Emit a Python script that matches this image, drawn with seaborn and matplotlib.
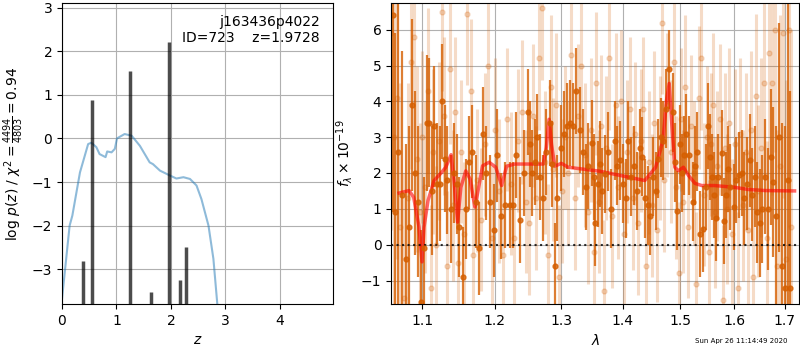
import numpy as np
import matplotlib
matplotlib.use("Agg")
import matplotlib.pyplot as plt
import matplotlib.ticker as mticker
import seaborn as sns

# left panel: log p(z)
pz_z = [0.0, 0.14, 0.19, 0.33, 0.48, 0.54, 0.63, 0.69, 0.80, 0.83, 0.91, 0.97, 1.01,
        1.15, 1.28, 1.43, 1.61, 1.67, 1.80, 1.98, 2.10, 2.23, 2.35, 2.47, 2.56, 2.69,
        2.78, 2.85, 2.90]
pz_logp = [-3.68, -2.0, -1.77, -0.78, -0.13, -0.10, -0.20, -0.36, -0.43, -0.30, -0.32,
           -0.24, 0.0, 0.10, 0.06, -0.17, -0.55, -0.59, -0.74, -0.85, -0.92, -0.89,
           -0.93, -1.08, -1.39, -2.0, -2.76, -3.77, -4.5]
spike_z = [0.39, 0.55, 1.24, 1.64, 1.97, 2.17, 2.28]
spike_h = [-2.82, 0.88, 1.55, -3.52, 2.22, -3.25, -2.5]

# right panel: binned spectrum (dark)
dark_wave = [1.062, 1.065, 1.069, 1.074, 1.079, 1.083, 1.087, 1.091, 1.095, 1.098,
             1.102, 1.106, 1.109, 1.113, 1.116, 1.120, 1.124, 1.127, 1.131, 1.134,
             1.139, 1.143, 1.147, 1.150, 1.155, 1.159, 1.164, 1.168, 1.173, 1.178,
             1.183, 1.188, 1.193, 1.199, 1.204, 1.210, 1.215, 1.222, 1.227, 1.232,
             1.238, 1.243, 1.249, 1.252, 1.255, 1.260, 1.263, 1.268, 1.272, 1.277,
             1.282, 1.286, 1.290, 1.294, 1.299, 1.304, 1.309, 1.314, 1.319, 1.324,
             1.330, 1.335, 1.340, 1.343, 1.349, 1.352, 1.354, 1.358, 1.362, 1.366,
             1.370, 1.375, 1.380, 1.386, 1.390, 1.395, 1.400, 1.405, 1.409, 1.414,
             1.419, 1.424, 1.429, 1.433, 1.437, 1.442, 1.447, 1.451, 1.456, 1.461,
             1.465, 1.469, 1.474, 1.480, 1.486, 1.490, 1.494, 1.499, 1.503, 1.507,
             1.511, 1.516, 1.522, 1.527, 1.531, 1.536, 1.541, 1.546, 1.550, 1.554,
             1.558, 1.562, 1.566, 1.570, 1.576, 1.580, 1.584, 1.588, 1.593, 1.599,
             1.604, 1.610, 1.615, 1.620, 1.625, 1.630, 1.635, 1.640, 1.645, 1.650,
             1.655, 1.661, 1.667, 1.672, 1.677, 1.683, 1.688, 1.694, 1.700, 1.706,
             1.712]
dark_flux = [6.4, 0.9, 2.6, 1.4, -0.4, 0.5, 3.9, 2.0, 1.2, -1.6,
             -0.1, 3.4, 3.4, 1.5, 3.3, 1.7, 1.7, 4.0, 2.4, 1.8,
             1.0, 2.0, 1.7, 0.5, -0.9, 1.0, 2.3, 2.6, 1.2, -0.1,
             3.1, 2.0, 1.2, 0.4, 2.5, 0.8, 1.1, 1.1, 1.1, 2.5,
             0.7, 2.0, 3.7, 2.8, 2.0, 2.3, 3.0, 1.9, 1.3, 2.6,
             3.4, 2.25, -0.6, 1.3, 2.7, 3.1, 3.3, 3.4, 3.3, 4.3,
             3.2, 2.6, 1.6, 2.2, 2.85, 1.9, 0.6, 1.7, 2.25, 1.5,
             1.97, 2.6, 1.0, 2.9, 2.2, 2.35, 1.7, 1.3, 2.9, 1.9,
             2.2, 1.5, 2.7, 2.45, 1.3, 1.1, 0.8, 1.9, 1.5, 2.4,
             3.0, 2.9, 3.8, 4.9, 3.7, 2.3, 0.95, 2.8, 2.0, 2.5,
             3.1, 2.5, 1.2, 2.2, 2.6, 0.3, 0.45, 1.6, 3.3, 2.45,
             1.9, 1.4, 0.75, 1.9, 2.55, 0.65, 1.4, 2.1, 1.6, 1.05,
             1.8, 1.95, 2.0, 1.3, 1.7, 2.35, 1.4, 1.9, 0.9, 0.6,
             1.0, 1.9, 1.0, 2.45, 1.75, 0.8, 3.0, -0.6, -1.2, 1.8,
             -1.2]
dark_err = [5.5, 5.0, 4.5, 4.0, 3.2, 2.8, 2.4, 2.3, 2.1, 2.0,
            2.0, 1.9, 1.8, 1.8, 1.7, 1.7, 1.6, 1.6, 1.5, 1.5,
            1.5, 1.4, 1.4, 1.4, 1.4, 1.4, 1.3, 1.3, 1.3, 1.3,
            1.3, 1.3, 1.3, 1.3, 1.3, 1.2, 1.2, 1.2, 1.2, 1.2,
            1.2, 1.2, 1.2, 1.2, 1.2, 1.2, 1.2, 1.2, 1.2, 1.2,
            1.2, 1.2, 1.2, 1.2, 1.2, 1.2, 1.2, 1.2, 1.2, 1.2,
            1.2, 1.2, 1.2, 1.2, 1.2, 1.2, 1.2, 1.2, 1.2, 1.2,
            1.1, 1.1, 1.1, 1.1, 1.1, 1.1, 1.1, 1.1, 1.1, 1.1,
            1.1, 1.1, 1.1, 1.1, 1.1, 1.1, 1.1, 1.1, 1.1, 1.1,
            1.1, 1.1, 1.1, 1.1, 1.1, 1.1, 1.1, 1.1, 1.1, 1.1,
            1.1, 1.1, 1.1, 1.1, 1.1, 1.2, 1.2, 1.2, 1.2, 1.2,
            1.2, 1.2, 1.2, 1.2, 1.2, 1.2, 1.2, 1.2, 1.2, 1.2,
            1.2, 1.2, 1.2, 1.3, 1.3, 1.3, 1.3, 1.4, 1.4, 1.5,
            1.5, 1.6, 1.7, 1.9, 2.1, 2.5, 3.2, 4.0, 4.5, 5.0,
            5.5]

# unbinned spectrum (light)
light_wave = [1.060, 1.064, 1.067, 1.071, 1.076, 1.081, 1.085, 1.089, 1.093, 1.097,
              1.100, 1.104, 1.108, 1.112, 1.115, 1.118, 1.122, 1.126, 1.129, 1.133,
              1.137, 1.141, 1.145, 1.149, 1.153, 1.157, 1.161, 1.166, 1.170, 1.175,
              1.181, 1.186, 1.190, 1.196, 1.201, 1.207, 1.212, 1.218, 1.224, 1.229,
              1.235, 1.240, 1.246, 1.251, 1.257, 1.262, 1.266, 1.270, 1.275, 1.280,
              1.284, 1.288, 1.292, 1.297, 1.301, 1.306, 1.311, 1.316, 1.321, 1.327,
              1.332, 1.337, 1.342, 1.347, 1.352, 1.356, 1.360, 1.364, 1.368, 1.372,
              1.377, 1.382, 1.388, 1.392, 1.397, 1.402, 1.407, 1.412, 1.417, 1.421,
              1.426, 1.431, 1.435, 1.440, 1.444, 1.449, 1.453, 1.458, 1.463, 1.467,
              1.471, 1.476, 1.483, 1.488, 1.492, 1.497, 1.501, 1.505, 1.509, 1.514,
              1.519, 1.524, 1.529, 1.533, 1.538, 1.543, 1.548, 1.552, 1.556, 1.560,
              1.564, 1.568, 1.573, 1.578, 1.582, 1.586, 1.591, 1.596, 1.601, 1.607,
              1.612, 1.617, 1.622, 1.627, 1.632, 1.637, 1.642, 1.647, 1.652, 1.658,
              1.664, 1.669, 1.674, 1.680, 1.685, 1.691, 1.697, 1.703, 1.709, 1.714]
light_flux = [5.9, 3.0, 4.1, 0.5, -1.5, 1.3, 5.1, 5.8, 2.4, 0.9,
              3.0, 1.6, 4.3, -1.2, 2.6, 0.0, 2.9, 6.5, 3.6, -0.6,
              4.9, 1.1, 3.7, -0.5, 2.6, 0.3, 6.45, 4.3, -0.3, 1.8,
              0.7, 2.8, 5.0, 0.2, 3.2, 1.5, -0.3, 3.5, 1.7, 0.2,
              2.9, 3.7, 1.2, 0.6, 3.6, 1.3, 5.2, 6.6, 2.3, -0.3,
              4.4, 2.1, 3.9, -0.9, 1.5, 3.0, 2.0, 5.3, 1.3, 3.6,
              5.0, 2.5, 0.9, 3.2, -0.2, 4.5, 1.2, 3.3, -1.3, 2.7,
              5.2, 0.8, 3.9, 1.6, 4.0, 0.3, 2.6, 3.8, 1.3, 3.1,
              0.6, 2.9, 3.8, -0.6, 2.3, 1.1, 3.4, 0.4, 2.7, 6.2,
              1.8, 3.9, 2.6, 5.1, 1.6, -0.8, 3.5, 1.2, 4.4, 0.5,
              3.3, 2.0, -1.1, 4.1, 5.2, 1.4, 3.0, -0.2, 2.8, 3.9,
              0.9, 2.2, 3.5, -1.55, 2.7, 1.0, 3.4, 0.3, 2.8, -1.2,
              3.1, 1.1, 2.6, 0.4, 3.2, -0.9, 4.15, 1.5, 2.7, 4.5,
              0.2, 5.35, 4.5, 6.0, -0.6, 2.2, 5.9, -0.4, 6.0, 0.5]
light_err = [5.5, 5.0, 4.5, 4.0, 3.5, 3.2, 3.0, 2.8, 2.6, 2.5,
             2.4, 2.4, 2.3, 2.3, 2.3, 2.2, 2.2, 2.2, 2.2, 2.1,
             2.1, 2.1, 2.1, 2.1, 2.0, 2.0, 2.0, 2.0, 2.0, 2.0,
             2.0, 2.0, 2.0, 2.0, 2.0, 2.0, 2.0, 2.0, 2.0, 2.0,
             2.0, 2.0, 2.0, 2.0, 2.0, 2.0, 2.0, 2.0, 2.0, 2.0,
             2.0, 2.0, 2.0, 2.0, 2.0, 2.0, 2.0, 2.0, 2.0, 2.0,
             2.0, 2.0, 2.0, 2.0, 2.0, 2.0, 2.0, 2.0, 2.0, 2.0,
             2.0, 2.0, 2.0, 2.0, 2.0, 2.0, 2.0, 2.0, 2.0, 2.0,
             2.0, 2.0, 2.0, 2.0, 2.0, 2.0, 2.0, 2.0, 2.0, 2.0,
             2.0, 2.0, 2.0, 2.0, 2.0, 2.0, 2.0, 2.0, 2.0, 2.0,
             2.0, 2.0, 2.0, 2.0, 2.0, 2.0, 2.0, 2.0, 2.0, 2.0,
             2.1, 2.1, 2.1, 2.1, 2.1, 2.1, 2.1, 2.1, 2.1, 2.1,
             2.1, 2.1, 2.2, 2.2, 2.2, 2.3, 2.3, 2.4, 2.5, 2.6,
             2.7, 2.9, 3.1, 3.4, 3.8, 4.2, 4.6, 5.0, 5.5, 5.5]

# best-fit model
model_wave = [1.0701, 1.083, 1.089, 1.096, 1.100, 1.1026, 1.1079, 1.116, 1.125, 1.1318,
              1.139, 1.143, 1.1479, 1.1525, 1.1593, 1.1653, 1.172, 1.1757, 1.1829, 1.1923,
              1.2018, 1.2103, 1.2175, 1.2297, 1.2723, 1.277, 1.2812, 1.285, 1.290, 1.3003,
              1.311, 1.3616, 1.4373, 1.456, 1.463, 1.469, 1.475, 1.480, 1.485, 1.490,
              1.4965, 1.5055, 1.5147, 1.5265, 1.539, 1.5624, 1.6011, 1.6274, 1.6611, 1.7204]
model_flux = [1.44, 1.51, 1.32, 0.49, -0.48, 0.49, 1.23, 1.79, 1.99, 2.16,
              2.51, 1.79, 0.63, 1.6, 2.06, 1.83, 1.05, 1.42, 2.2, 2.3,
              2.16, 1.65, 2.19, 2.25, 2.25, 2.71, 3.5, 2.8, 2.19, 2.27,
              2.16, 2.05, 1.79, 2.16, 2.57, 2.9, 4.0, 4.5, 3.27, 2.16,
              2.06, 2.16, 1.93, 1.71, 1.65, 1.65, 1.6, 1.54, 1.51, 1.5]

grism_color = "#d55e00"

fig = plt.figure(figsize=(8, 3.5), dpi=100)
ax1 = fig.add_axes([0.0775, 0.131, 0.339, 0.860])
ax2 = fig.add_axes([0.489, 0.131, 0.510, 0.860])

# p(z)
sns.lineplot(x=pz_z, y=pz_logp, ax=ax1, color="tab:blue", alpha=0.5, linewidth=1.5)
ax1.vlines(spike_z, -4, spike_h, color="k", alpha=0.7, linewidth=2.5)
ax1.set_xlim(0, 4.98)
ax1.set_ylim(-3.8, 3.1)
ax1.set_xticks([0, 1, 2, 3, 4])
ax1.set_yticks([-3, -2, -1, 0, 1, 2, 3])
ax1.set_xlabel("$z$")
ax1.set_ylabel(r"log $p(z)$ / $\chi^2=\frac{4494}{4803}=0.94$")
ax1.text(0.95, 0.96, "j163436p4022\nID=723    z=1.9728", transform=ax1.transAxes,
         ha="right", va="top", fontsize=10)
ax1.grid(True)

# spectrum
ax2.errorbar(light_wave, light_flux, yerr=light_err, fmt="o", color=grism_color,
             alpha=0.22, ms=3.5, elinewidth=2.2, capsize=0)
ax2.errorbar(dark_wave, dark_flux, yerr=dark_err, fmt="o", color=grism_color,
             alpha=0.8, ms=3.5, elinewidth=1.6, capsize=0)
sns.lineplot(x=model_wave, y=model_flux, ax=ax2, color="r", alpha=0.6, linewidth=2.5)
ax2.axhline(0, color="k", linestyle=":", linewidth=1.5, alpha=0.8)
ax2.set_xscale("log")
ax2.set_xlim(1.06, 1.73)
ax2.set_ylim(-1.66, 6.74)
ax2.set_xticks([1.1, 1.2, 1.3, 1.4, 1.5, 1.6, 1.7])
ax2.set_xticklabels(["1.1", "1.2", "1.3", "1.4", "1.5", "1.6", "1.7"])
ax2.xaxis.set_minor_locator(mticker.NullLocator())
ax2.set_yticks([-1, 0, 1, 2, 3, 4, 5, 6])
ax2.set_xlabel(r"$\lambda$")
ax2.set_ylabel(r"$f_\lambda \times 10^{-19}$")
ax2.grid(True)

fig.text(0.984, 0.018, "Sun Apr 26 11:14:49 2020", ha="right", va="bottom", fontsize=5)

fig.savefig("out.png", dpi=100)
